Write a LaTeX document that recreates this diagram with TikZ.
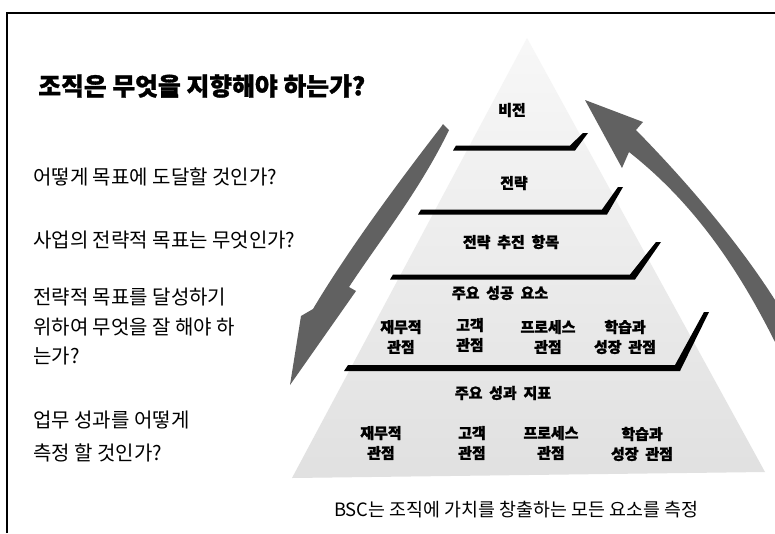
\documentclass[tikz,border=0pt]{standalone}
\usepackage{fontspec}
\setmainfont{Noto Sans CJK KR}
\tikzset{
  lefttext/.style={anchor=west, inner sep=0pt, font=\fontsize{15}{17}\selectfont},
  titletext/.style={anchor=west, inner sep=0pt, font=\bfseries\addfontfeature{FakeBold=1.2}\fontsize{18.6}{21}\selectfont},
  pyr/.style={align=center, inner sep=0pt, font=\bfseries\addfontfeature{FakeBold=1.5}\fontsize{11.2}{15}\selectfont},
  captext/.style={inner sep=0pt, font=\fontsize{13.8}{16}\selectfont},
  barfill/.style={fill=black},
  arrowfill/.style={fill=black!62},
  pyramidfill/.style={top color=black!3, bottom color=black!12}
}
\begin{document}
\begin{tikzpicture}[x=0.75pt,y=-0.75pt]
\useasboundingbox (0,0) rectangle (775,533);
\fill[white] (0,0) rectangle (775,533);
% frame
\draw[line width=2.2pt] (7,533) -- (7,13) -- (775,13);
% pyramid
\shade[pyramidfill] (527,38) -- (292,478) -- (765,472) -- cycle;
% steps
\fill[barfill] (456,145.5) -- (570,145.5) -- (583,133) -- (588,133) -- (575,150.5) -- (453,150.5) -- cycle;
\fill[barfill] (421,209.5) -- (602,209.5) -- (618,187) -- (623,187) -- (607,214.5) -- (418,214.5) -- cycle;
\fill[barfill] (393,274.5) -- (630,274.5) -- (656,242) -- (661,242) -- (635,279.5) -- (390,279.5) -- cycle;
\fill[barfill] (348,365) -- (675,365) -- (704,312) -- (709,312) -- (680,371) -- (344,371) -- cycle;
% left arrow (downwards)
\fill[arrowfill] (443,124) -- (449,130) .. controls (420,190) and (380,240) .. (349,287)
  -- (356,291) -- (290,385) -- (301,316) -- (313,309)
  .. controls (348,250) and (400,180) .. (441,127) -- cycle;
% right arrow (upwards)
\fill[arrowfill] (585,100) -- (643,122) -- (636,130)
  .. controls (690,185) and (740,245) .. (775,300) -- (775,342)
  .. controls (735,262) and (690,200) .. (629,152) -- (622,168) -- cycle;
% title and questions
\node[titletext] (title) at (38,86) {조직은 무엇을 지향해야 하는가?};
\node[lefttext] (q1) at (33,177) {어떻게 목표에 도달할 것인가?};
\node[lefttext] (q2) at (33,240) {사업의 전략적 목표는 무엇인가?};
\node[lefttext] (q3a) at (33,297) {전략적 목표를 달성하기};
\node[lefttext] (q3b) at (33,327) {위하여 무엇을 잘 해야 하};
\node[lefttext] (q3c) at (33,356) {는가?};
\node[lefttext] (q4a) at (33,420) {업무 성과를 어떻게};
\node[lefttext] (q4b) at (33,453) {측정 할 것인가?};
% pyramid labels
\node[pyr] (vision) at (512,110) {비전};
\node[pyr] (strategy) at (514,183) {전략};
\node[pyr] (initiatives) at (511,242) {전략 \ 추진 \ 항목};
\node[pyr] (csf) at (500,293) {주요 \ 성공 \ 요소};
\node[pyr] (r1a) at (401,337) {재무적\\관점};
\node[pyr] (r1b) at (470,335) {고객\\관점};
\node[pyr] (r1c) at (548,337) {프로세스\\관점};
\node[pyr] (r1d) at (625,337) {학습과\\성장 \ 관점};
\node[pyr] (kpi) at (503,393) {주요 \ 성과 \ 지표};
\node[pyr] (r2a) at (381,443) {재무적\\관점};
\node[pyr] (r2b) at (472,443) {고객\\관점};
\node[pyr] (r2c) at (551,443) {프로세스\\관점};
\node[pyr] (r2d) at (642,444) {학습과\\성장 \ 관점};
\node[captext] (caption) at (516,510) {BSC는 조직에 가치를 창출하는 모든 요소를 측정};
\end{tikzpicture}
\end{document}
